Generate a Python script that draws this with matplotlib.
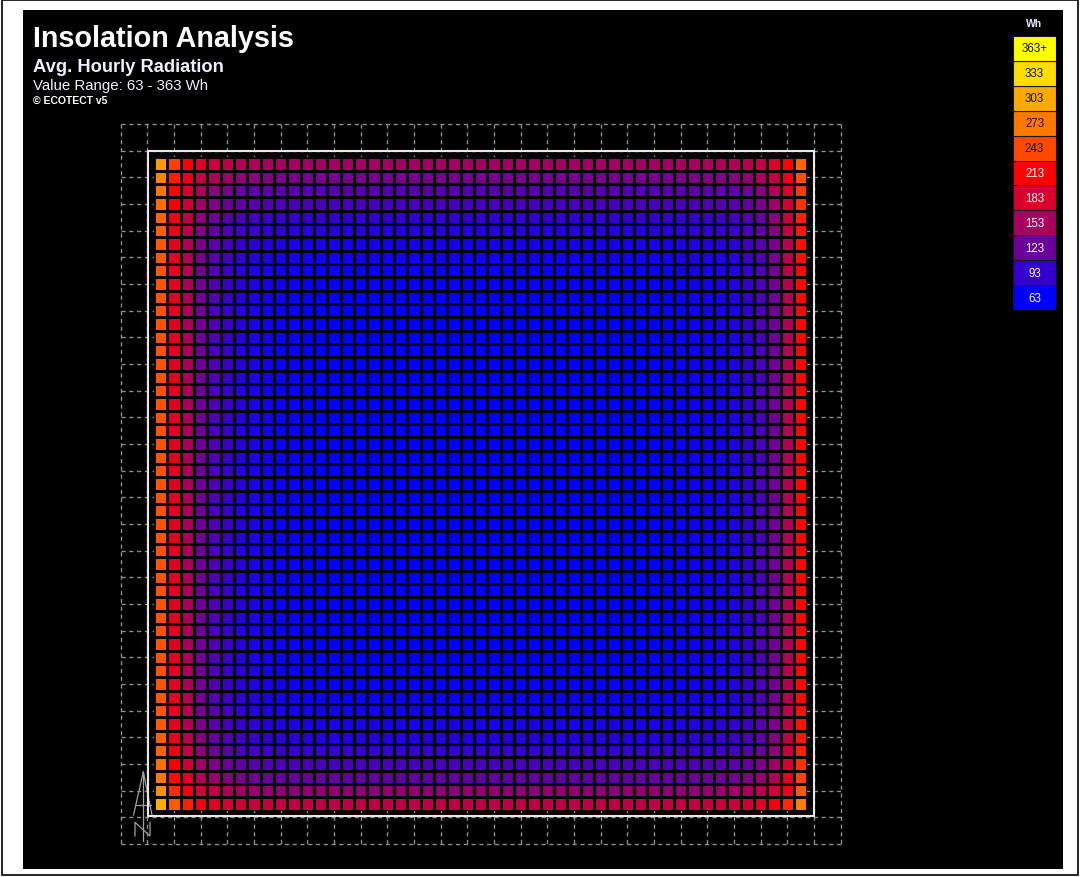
import numpy as np
import matplotlib
matplotlib.use("Agg")
import matplotlib.pyplot as plt
from matplotlib.colors import LinearSegmentedColormap, Normalize
from matplotlib.patches import Rectangle

# ---- colour scale (Wh) ----
scale_values = [63, 93, 123, 153, 183, 213, 243, 273, 303, 333, 363]
scale_labels = ["63", "93", "123", "153", "183", "213", "243", "273", "303", "333", "363+"]
scale_colors = ["#0000FF", "#3400CC", "#6A0098", "#A8005C", "#D8002C", "#FF0000",
                "#FF4800", "#FF7800", "#FFA800", "#FFDC00", "#FFFF00"]
label_dark = [False, False, False, False, False, False, True, True, True, True, True]

# ---- analysis grid: 49 x 49 cells ----
grid_cells = 49
base_value = 63
# extra radiation above the base value, by cell distance from each edge
left_edge = [187, 127, 92, 62, 45, 33, 23, 17, 12, 7, 5, 3, 2, 1]
right_edge = [152, 97, 62, 41, 28, 18, 14, 11, 9, 6, 4, 2, 1]
top_edge = [87, 67, 50, 41, 28, 23, 14, 11, 7, 5, 3, 2, 1]
bottom_edge = [105, 75, 55, 42, 30, 22, 15, 11, 7, 5, 3, 2, 1]
edge_blend = 1.4


def edge_profile(values, reverse=False):
    prof = np.zeros(grid_cells)
    prof[:len(values)] = values
    return prof[::-1] if reverse else prof


col_l = edge_profile(left_edge)
col_r = edge_profile(right_edge, reverse=True)
row_t = edge_profile(top_edge)
row_b = edge_profile(bottom_edge, reverse=True)
L, T = np.meshgrid(col_l, row_t)
R, B = np.meshgrid(col_r, row_b)
p = edge_blend
excess = (L ** p + R ** p + T ** p + B ** p) ** (1.0 / p)
radiation = base_value + excess

# ---- colour map from the legend scale ----
vmin, vmax = scale_values[0], scale_values[-1]
cmap = LinearSegmentedColormap.from_list(
    "insolation",
    [((v - vmin) / (vmax - vmin), c) for v, c in zip(scale_values, scale_colors)])
norm = Normalize(vmin=vmin, vmax=vmax, clip=True)

W, H = 1080, 878
fig = plt.figure(figsize=(W / 100, H / 100), dpi=100)
fig.patch.set_facecolor("white")

# background layer in pixel units
bg = fig.add_axes([0, 0, 1, 1], zorder=0)
bg.set_xlim(0, W)
bg.set_ylim(H, 0)
bg.axis("off")
bg.add_patch(Rectangle((1.5, 1.0), W - 3.5, H - 2.5, facecolor="none",
                       edgecolor="black", linewidth=1.2))
bg.add_patch(Rectangle((22.5, 10.5), 1040.5, 859.5, facecolor="black",
                       edgecolor="none"))

tf = ["Liberation Sans", "DejaVu Sans"]
bg.text(33, 47, "Insolation Analysis", color="white", fontsize=20.7,
        fontweight="bold", family=tf, va="baseline", ha="left")
bg.text(33, 72, "Avg. Hourly Radiation", color="#F0F0FF", fontsize=13.2,
        fontweight="bold", family=tf, va="baseline", ha="left")
bg.text(33, 90, "Value Range: 63 - 363 Wh", color="#F0F0FF", fontsize=10.8,
        family=tf, va="baseline", ha="left")
bg.text(33, 103.5, "\u00a9 ECOTECT v5", color="white", fontsize=7.5,
        fontweight="bold", family=tf, va="baseline", ha="left")
bg.text(1034, 24, "Wh", color="#E6E6FF", fontsize=7.5, fontweight="bold",
        family=tf, va="center", ha="center")

# north arrow
na = dict(color="#A0A0A0", linewidth=0.9)
bg.plot([143.3, 143.3], [773, 842], **na)
bg.plot([143.3, 133.5], [773, 816], **na)
bg.plot([143.3, 152.0], [773, 816], **na)
bg.plot([135.5, 150.5], [806.5, 806.5], **na)
bg.plot([135, 135, 150, 150], [837, 823.3, 837, 823.3], **na)

# ---- main grid axes (one unit = one cell) ----
px0, py0, span = 154.1, 158.4, 653.3
ax = fig.add_axes([px0 / W, (H - py0 - span) / H, span / W, span / H], zorder=1)
ax.set_xlim(0, grid_cells)
ax.set_ylim(grid_cells, 0)
ax.axis("off")

# dashed construction grid
guide = np.arange(-2.5, grid_cells + 3, 2.0)
for g in guide:
    ax.plot([g, g], [guide[0], guide[-1]], color="#8C8C8C", linewidth=1.0,
            linestyle=(0, (3, 2.6)), clip_on=False, zorder=0)
    ax.plot([guide[0], guide[-1]], [g, g], color="#8C8C8C", linewidth=1.0,
            linestyle=(0, (3, 2.6)), clip_on=False, zorder=0)

edges = np.arange(grid_cells + 1)
ax.pcolormesh(edges, edges, radiation, cmap=cmap, norm=norm,
              edgecolors="black", linewidth=1.0, zorder=1)

ax.add_patch(Rectangle((-0.48, -0.46), grid_cells + 0.96, grid_cells + 0.88,
                       facecolor="none", edgecolor="#E8E8E8", linewidth=1.5,
                       clip_on=False, zorder=2))

# ---- legend ----
lx, ly, lw_, lh = 1013, 37, 43, 274
leg = fig.add_axes([lx / W, (H - ly - lh) / H, lw_ / W, lh / H], zorder=1)
leg.set_xlim(0, 1)
leg.set_ylim(0, len(scale_values))
leg.axis("off")
ypos = np.arange(len(scale_values)) + 0.5
leg.barh(ypos, [1] * len(scale_values), height=1.0, left=0,
         color=[cmap(norm(v)) for v in scale_values],
         edgecolor="#1A1A1A", linewidth=0.8)
for y, lab, dark in zip(ypos, scale_labels, label_dark):
    leg.text(0.5, y, lab, color="#111111" if dark else "white", fontsize=8.3,
             family=tf, ha="center", va="center")

fig.savefig("out.png", dpi=100, facecolor=fig.get_facecolor())
